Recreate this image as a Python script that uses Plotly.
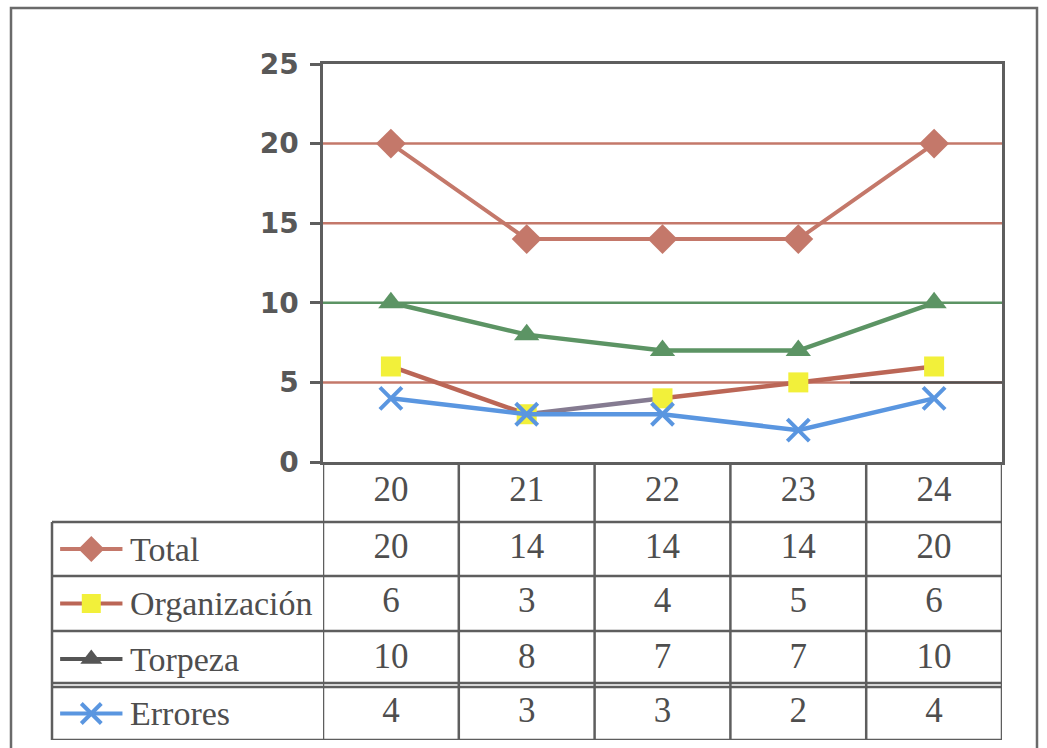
import plotly.graph_objects as go

# ---- data -------------------------------------------------------------
weeks = ["20", "21", "22", "23", "24"]
series_names = ["Total", "Organización", "Torpeza", "Errores"]
total = [20, 14, 14, 14, 20]
organizacion = [6, 3, 4, 5, 6]
torpeza = [10, 8, 7, 7, 10]
errores = [4, 3, 3, 2, 4]
y_ticks = [0, 5, 10, 15, 20, 25]

# ---- page geometry (pixels) ---------------------------------------------
W, H = 1047, 748
PLOT_L, PLOT_R, PLOT_T, PLOT_B = 323, 1002, 64, 462
TABLE_B = 740
LEG_L = 52
TICK_L = 313
# horizontal rules of the data table, top to bottom
ROW_EDGES = [PLOT_B, 522, 576, 631, 687, TABLE_B]


def px(x):
    return x / W


def py(y):
    return 1 - y / H


FRAME = "#5e5e5e"
TXT = "#4e4e4e"
RED = "#c4786a"
RED_DARK = "#bb6656"
PURPLE = "#857b91"
YELLOW = "#f2f03a"
GREEN = "#5c9464"
BLUE = "#5a96e0"

xi = list(range(len(weeks)))
row_mid = [(a + b) / 2 for a, b in zip(ROW_EDGES[:-1], ROW_EDGES[1:])]
fig = go.Figure()

# ---- lines --------------------------------------------------------------
fig.add_trace(go.Scatter(
    x=xi, y=total, mode="lines+markers",
    line=dict(color=RED, width=4),
    marker=dict(symbol="diamond", size=23, color=RED),
))

org_seg_colors = [RED_DARK, PURPLE, RED_DARK, RED_DARK]
for i, c in enumerate(org_seg_colors):
    fig.add_trace(go.Scatter(
        x=xi[i:i + 2], y=organizacion[i:i + 2], mode="lines",
        line=dict(color=c, width=4.5),
    ))
fig.add_trace(go.Scatter(
    x=xi, y=organizacion, mode="markers",
    marker=dict(symbol="square", size=20, color=YELLOW),
))

fig.add_trace(go.Scatter(
    x=xi, y=torpeza, mode="lines+markers",
    line=dict(color=GREEN, width=4.5),
    marker=dict(symbol="triangle-up", size=22, color=GREEN),
))

fig.add_trace(go.Scatter(
    x=xi, y=errores, mode="lines+markers",
    line=dict(color=BLUE, width=4.5),
    marker=dict(symbol="x-thin", size=22, color=BLUE,
                line=dict(color=BLUE, width=4)),
))

# ---- data table: header row (weeks) + one row per series ----------------
rows = [weeks, total, organizacion, torpeza, errores]
for r, vals in enumerate(rows):
    fig.add_trace(go.Scatter(
        x=xi, y=[row_mid[r]] * len(xi), mode="text",
        text=[str(v) for v in vals],
        textfont=dict(family="Liberation Serif", size=35, color=TXT),
        xaxis="x", yaxis="y2",
    ))

# legend keys inside the table
key_styles = [
    dict(line=RED, marker="diamond", mcolor=RED, size=20),
    dict(line=RED_DARK, marker="square", mcolor=YELLOW, size=19),
    dict(line="#555555", marker="triangle-up", mcolor="#555555", size=19),
    dict(line=BLUE, marker="x-thin", mcolor=BLUE, size=20),
]
for k, (name, st) in enumerate(zip(series_names, key_styles)):
    ym = row_mid[k + 1]
    fig.add_trace(go.Scatter(
        x=[0.03, 0.145, 0.26], y=[ym] * 3, mode="lines",
        line=dict(color=st["line"], width=4),
        xaxis="x3", yaxis="y2",
    ))
    fig.add_trace(go.Scatter(
        x=[0.145], y=[ym], mode="markers",
        marker=dict(symbol=st["marker"], size=st["size"], color=st["mcolor"],
                    line=dict(color=st["mcolor"], width=4 if st["marker"] == "x-thin" else 0)),
        xaxis="x3", yaxis="y2",
    ))
    fig.add_annotation(
        x=0.28, y=ym, xref="x3", yref="y2", text=name, showarrow=False,
        xanchor="left", yanchor="middle",
        font=dict(family="Liberation Serif", size=34, color=TXT),
    )

shapes = []

# coloured horizontal gridlines (extend through the tick marks)
grid_colors = {5: RED, 10: GREEN, 15: RED, 20: RED}
for v, c in grid_colors.items():
    shapes.append(dict(type="line", xref="paper", yref="y",
                       x0=px(TICK_L), x1=px(PLOT_R), y0=v, y1=v,
                       line=dict(color=c, width=2.5), layer="below"))
# the right end of the 5-line is dark
shapes.append(dict(type="line", xref="paper", yref="y",
                   x0=px(850), x1=px(PLOT_R), y0=5, y1=5,
                   line=dict(color="#505050", width=2.5), layer="below"))

# table rules
tl = dict(color=FRAME, width=2.5)
for e in ROW_EDGES[1:]:
    shapes.append(dict(type="line", xref="paper", yref="y2",
                       x0=px(LEG_L), x1=px(PLOT_R), y0=e, y1=e, line=tl))
# double rule above the last row
shapes.append(dict(type="line", xref="paper", yref="y2",
                   x0=px(LEG_L), x1=px(PLOT_R), y0=ROW_EDGES[4] - 4, y1=ROW_EDGES[4] - 4,
                   line=tl))
for c in [i - 0.5 for i in range(len(weeks) + 1)]:
    shapes.append(dict(type="line", xref="x", yref="y2",
                       x0=c, x1=c, y0=PLOT_B, y1=TABLE_B, line=tl))
shapes.append(dict(type="line", xref="paper", yref="y2",
                   x0=px(LEG_L), x1=px(LEG_L), y0=ROW_EDGES[1], y1=TABLE_B, line=tl))

# outer frame of the chart object
shapes.append(dict(type="rect", xref="paper", yref="paper",
                   x0=px(11), x1=px(1037), y0=py(8), y1=-0.05,
                   line=dict(color="#6a6a6a", width=2.5)))

fig.update_layout(
    template="none",
    width=W, height=H,
    margin=dict(l=0, r=0, t=0, b=0, pad=0, autoexpand=False),
    paper_bgcolor="white", plot_bgcolor="white",
    showlegend=False, hovermode=False,
    shapes=shapes,
    xaxis=dict(domain=[px(PLOT_L), px(PLOT_R)], range=[-0.5, len(weeks) - 0.5],
               showgrid=False, zeroline=False, showticklabels=False, ticks="",
               showline=True, mirror=True, linecolor=FRAME, linewidth=2.5,
               anchor="y", automargin=False),
    yaxis=dict(domain=[py(PLOT_B), py(PLOT_T)], range=[0, 25],
               tickvals=y_ticks, showgrid=False, zeroline=False,
               showline=True, mirror=True, linecolor=FRAME, linewidth=2.5,
               ticks="outside", ticklen=10, tickwidth=2.5, tickcolor=FRAME,
               ticklabelstandoff=6,
               tickfont=dict(family="DejaVu Sans", size=28, color="#585858",
                             weight="bold"),
               anchor="x", automargin=False),
    # table axis measured in page pixels from the top
    yaxis2=dict(domain=[py(TABLE_B), py(PLOT_B)], range=[TABLE_B, PLOT_B],
                visible=False, anchor="x", automargin=False),
    xaxis3=dict(domain=[px(LEG_L), px(PLOT_L)], range=[0, 1],
                visible=False, anchor="y2", automargin=False),
)

fig.write_html("out.html")
